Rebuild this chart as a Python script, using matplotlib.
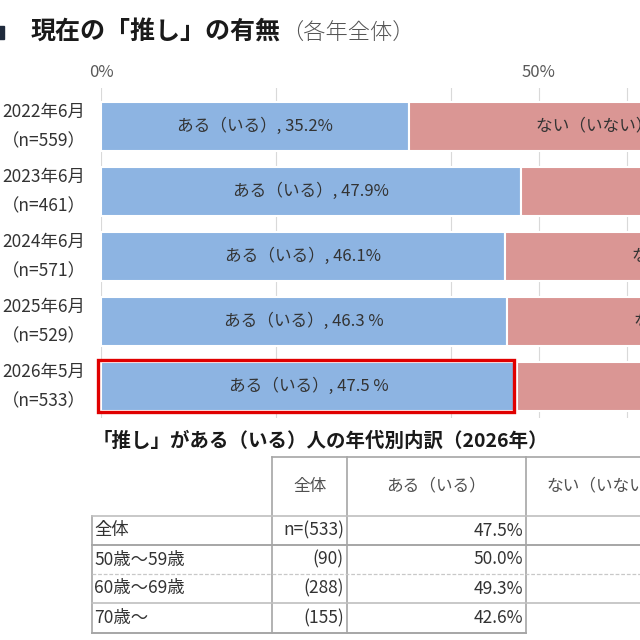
import matplotlib
matplotlib.use("Agg")
import matplotlib.pyplot as plt
from matplotlib.patches import Rectangle

plt.rcParams['font.family'] = ['Noto Sans CJK JP', 'DejaVu Sans']

# --- data ---
periods = ["2022年6月", "2023年6月", "2024年6月", "2025年6月", "2026年5月"]
sample_n = [559, 461, 571, 529, 533]
aru = [35.2, 47.9, 46.1, 46.3, 47.5]
nai = [64.8, 52.1, 53.9, 53.7, 52.5]
aru_text = ["35.2%", "47.9%", "46.1%", "46.3 %", "47.5 %"]

age_groups = ["全体", "50歳～59歳", "60歳～69歳", "70歳～"]
age_n = ["n=(533)", "(90)", "(288)", "(155)"]
age_aru = [47.5, 50.0, 49.3, 42.6]
table_header = ["全体", "ある（いる）", "ない（いない）"]

BLUE = "#8DB4E2"
PINK = "#DA9694"
TXT = "#333333"

W = H = 640.0
fig = plt.figure(figsize=(6.4, 6.4), dpi=100)

# bar chart: 0% at x=101px, 1% ~ 8.76px, chart is cut at the right edge
px_pct = 8.76
ax = fig.add_axes([101 / W, 1 - 418 / H, (W - 101) / W, 330 / H])
ax.set_xlim(0, (W - 101) / px_pct)
ax.set_ylim(4.485, -0.592)

y = list(range(len(periods)))
ax.barh(y, aru, height=0.74, color=BLUE, edgecolor='white', linewidth=1.5, zorder=2)
ax.barh(y, nai, left=aru, height=0.74, color=PINK, edgecolor='white', linewidth=1.5, zorder=2)

for i in y:
    ax.text(aru[i] / 2, i, "ある（いる）, " + aru_text[i], ha='center', va='center',
            fontsize=12, color=TXT, zorder=3)
    ax.text(aru[i] + 14.5, i, "ない（いない）, {:.1f}%".format(nai[i]), ha='left', va='center',
            fontsize=12, color=TXT, zorder=3)

# red highlight around latest year
last = len(aru) - 1
ax.add_patch(Rectangle((-0.3, last - 0.4), aru[last] - 0.1, 0.8, fill=False,
                       edgecolor='#E00000', linewidth=2.4, zorder=4, clip_on=False))

ax.xaxis.tick_top()
ax.set_xticks([0, 50])
ax.set_xticklabels(["0%", "50%"])
ax.set_xticks([20, 40, 60], minor=True)
ax.grid(axis='x', which='both', color='#D9D9D9', linewidth=0.8, zorder=0)
ax.tick_params(axis='x', which='both', length=0, pad=5, labelsize=12, labelcolor='#595959')

ax.set_yticks(y)
ax.set_yticklabels(["{}\n（n={}）".format(p, n) for p, n in zip(periods, sample_n)])
ax.tick_params(axis='y', length=0, pad=11, labelsize=12.5, labelcolor=TXT)
for lab in ax.get_yticklabels():
    lab.set_multialignment('center')
    lab.set_linespacing(1.85)
    lab.set_verticalalignment('center')
for s in ax.spines.values():
    s.set_visible(False)

# title
fig.add_artist(Rectangle((-6 / W, 1 - 39 / H), 10 / W, 13 / H, transform=fig.transFigure,
                         color='#1F2A3C'))
t = fig.text(31 / W, 1 - 33 / H, "現在の「推し」の有無", fontsize=18, fontweight='bold',
             color='#1A1A1A', va='center')
fig.canvas.draw()
bb = t.get_window_extent()
fig.text(bb.x1 / W, 1 - 34 / H, "（各年全体）", fontsize=16, fontweight='light',
         color='#555555', va='center')

# table
fig.text(93 / W, 1 - 441 / H, "「推し」がある（いる）人の年代別内訳（2026年）",
         fontsize=14, fontweight='bold', color='#1A1A1A', va='center')

tab = fig.add_axes([0, 0, 1, 1])
tab.set_xlim(0, W)
tab.set_ylim(H, 0)
tab.axis('off')
tab.patch.set_visible(False)

grey = '#A6A6A6'
tab.plot([272, W], [457, 457], color=grey, lw=1.2)
for xv in [272, 347, 526]:
    tab.plot([xv, xv], [457, 633], color=grey, lw=1.2)
tab.plot([92, 92], [516, 633], color=grey, lw=1.2)
tab.plot([92, W], [516, 516], color='#BFBFBF', lw=1.2)
tab.plot([92, W], [545, 545], color=grey, lw=1.4)
tab.plot([92, W], [574, 574], color='#C8C8C8', lw=0.9, ls=(0, (3, 1.5)))
tab.plot([92, W], [603, 603], color='#BFBFBF', lw=1.2)
tab.plot([92, 526], [633, 633], color=grey, lw=1.4)

tab.text(310, 486, table_header[0], ha='center', va='center', fontsize=12, color='#505050')
tab.text(436, 486, table_header[1], ha='center', va='center', fontsize=12, color='#505050')
tab.text(546, 486, table_header[2], ha='left', va='center', fontsize=12, color='#505050')

row_y = [530.5, 559.5, 588.5, 618]
for ry, g, n, v in zip(row_y, age_groups, age_n, age_aru):
    tab.text(94, ry, g, ha='left', va='center', fontsize=12.5, color=TXT)
    tab.text(344, ry, n, ha='right', va='center', fontsize=12.5, color=TXT)
    tab.text(523, ry, "{:.1f}%".format(v), ha='right', va='center', fontsize=12.5, color=TXT)

fig.savefig("out.png", dpi=100)
